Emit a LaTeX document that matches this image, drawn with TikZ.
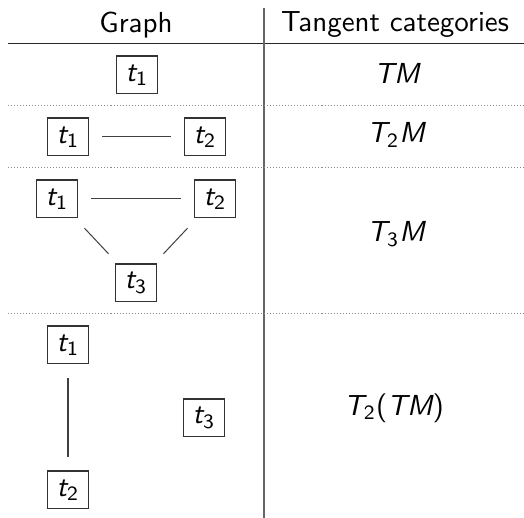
\documentclass[tikz,border=0pt]{standalone}
\usepackage{amsmath}
\usepackage{tikz}

% sans oblique letters and sans digits inside math
\newcommand{\svar}[1]{\text{\sffamily\itshape #1}}
\newcommand{\snum}[1]{\text{\sffamily\upshape #1}}

\begin{document}
\begin{tikzpicture}[x=0.345pt, y=-0.345pt,
    every node/.style={font=\sffamily},
    vertex/.style={draw=black!80, line width=0.35pt, minimum width=14.1pt, minimum height=13.1pt, inner sep=0pt},
    link/.style={draw=black!75, line width=0.35pt, shorten >=4.6pt, shorten <=4.6pt},
    rowsep/.style={draw=black!45, line width=0.35pt, dash pattern=on 0.35pt off 0.69pt}]
  \useasboundingbox (0,0) rectangle (524,518);

  % header
  \node (graph) at (136,25) {Graph};
  \node (tang) at (395,25) {Tangent categories};
  \draw[black!85, line width=0.35pt] (8,44) -- (524,44);
  \draw[black!60, line width=0.4pt] (264,8) -- (264,518);

  % row separators
  \foreach \y in {106,168,314}
    \draw[rowsep] (8,\y) -- (524,\y);

  % one point
  \node[vertex] (a1) at (137,75) {$\svar{t}_{\snum{1}}$};
  \node (tm) at (397,73) {$\svar{TM}$};

  % two points, joined
  \node[vertex] (b1) at (68,137) {$\svar{t}_{\snum{1}}$};
  \node[vertex] (b2) at (205,137) {$\svar{t}_{\snum{2}}$};
  \draw[link] (b1) -- (b2);
  \node (t2m) at (396,135) {$\svar{T}_{\snum{2}}\svar{M}$};

  % three points, all joined
  \node[vertex] (c1) at (57,199) {$\svar{t}_{\snum{1}}$};
  \node[vertex] (c2) at (215,199) {$\svar{t}_{\snum{2}}$};
  \node[vertex] (c3) at (136,283) {$\svar{t}_{\snum{3}}$};
  \draw[link] (c1) -- (c2);
  \draw[link] (c1) -- (c3);
  \draw[link] (c2) -- (c3);
  \node (t3m) at (396,234) {$\svar{T}_{\snum{3}}\svar{M}$};

  % three points, one edge
  \node[vertex] (d1) at (68,345) {$\svar{t}_{\snum{1}}$};
  \node[vertex] (d2) at (68,490) {$\svar{t}_{\snum{2}}$};
  \node[vertex] (d3) at (204,418) {$\svar{t}_{\snum{3}}$};
  \draw[link] (d1) -- (d2);
  \node (t2tm) at (394,408) {$\svar{T}_{\snum{2}}\snum{(}\svar{TM}\snum{)}$};
\end{tikzpicture}
\end{document}
